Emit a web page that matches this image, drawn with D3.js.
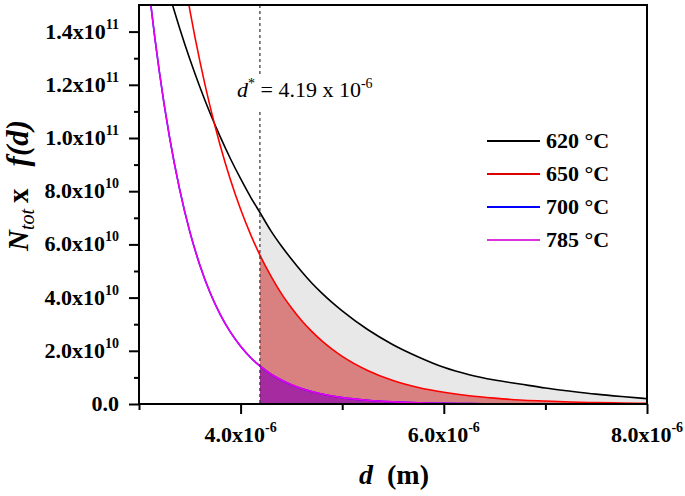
<!DOCTYPE html>
<html><head><meta charset="utf-8">
<script src="https://cdn.jsdelivr.net/npm/d3@7/dist/d3.min.js"></script>
<style>
body{margin:0;background:#fff}
svg{display:block}
text{font-family:"Liberation Serif","Times New Roman",serif;fill:#000}
</style>
</head><body>
<svg id="c" width="685" height="496"></svg>
<script>
// ---- data ----
const dVals = [3.0e-6,3.1e-6,3.2e-6,3.3e-6,3.4e-6,3.5e-6,3.6e-6,3.7e-6,3.8e-6,3.9e-6,4.0e-6,4.1e-6,4.19e-6,4.3e-6,4.4e-6,4.5e-6,4.6e-6,4.7e-6,4.8e-6,4.9e-6,5.0e-6,5.25e-6,5.5e-6,5.75e-6,6.0e-6,6.25e-6,6.5e-6,6.75e-6,7.0e-6,7.25e-6,7.5e-6,7.75e-6,8.0e-6];
const series620 = [19.9e10,18.25e10,16.75e10,15.39e10,14.13e10,12.97e10,11.91e10,10.93e10,10.04e10,9.22e10,8.47e10,7.77e10,7.2e10,6.5e10,5.95e10,5.45e10,4.98e10,4.55e10,4.17e10,3.82e10,3.5e10,2.8e10,2.23e10,1.77e10,1.38e10,1.1e10,0.9e10,0.75e10,0.6e10,0.48e10,0.37e10,0.28e10,0.2e10];
const series650 = [30.0e10,26.0e10,22.6e10,19.6e10,17.06e10,14.82e10,12.87e10,11.18e10,9.71e10,8.43e10,7.32e10,6.36e10,5.6e10,4.8e10,4.16e10,3.62e10,3.14e10,2.73e10,2.37e10,2.06e10,1.79e10,1.26e10,0.88e10,0.62e10,0.44e10,0.31e10,0.22e10,0.15e10,0.11e10,0.075e10,0.053e10,0.037e10,0.026e10];
const series700 = [19.4e10,15.56e10,12.5e10,10.04e10,8.07e10,6.48e10,5.21e10,4.18e10,3.36e10,2.7e10,2.17e10,1.74e10,1.43e10,1.12e10,0.9e10,0.725e10,0.58e10,0.47e10,0.375e10,0.3e10,0.24e10,0.14e10,0.081e10,0.047e10,0.027e10,0.016e10,0.009e10,0.005e10,0.003e10,0.002e10,0.001e10,0.0006e10,0.0004e10];
const series785 = [19.4e10,15.56e10,12.5e10,10.04e10,8.07e10,6.48e10,5.21e10,4.18e10,3.36e10,2.7e10,2.17e10,1.74e10,1.43e10,1.12e10,0.9e10,0.725e10,0.58e10,0.47e10,0.375e10,0.3e10,0.24e10,0.14e10,0.081e10,0.047e10,0.027e10,0.016e10,0.009e10,0.005e10,0.003e10,0.002e10,0.001e10,0.0006e10,0.0004e10];
const dStar = 4.19e-6;
const legendLabels = ["620 °C","650 °C","700 °C","785 °C"];
const xTickValues = [4.0e-6,6.0e-6,8.0e-6];
const xTickMantissa = ["4.0","6.0","8.0"];
const xTickExp = ["-6","-6","-6"];
const xMinorTicks = [3.0e-6,5.0e-6,7.0e-6];
const yTickValues = [0,2e10,4e10,6e10,8e10,1.0e11,1.2e11,1.4e11];
const yTickMantissa = ["0.0","2.0","4.0","6.0","8.0","1.0","1.2","1.4"];
const yTickExp = ["","10","10","10","10","11","11","11"];
const yMinorTicks = [1e10,3e10,5e10,7e10,9e10,1.1e11,1.3e11];

// ---- layout ----
const L=139,R=647,T=5,B=404;
const svg = d3.select("#c");
const x = d3.scaleLinear().domain([3e-6,8e-6]).range([L,R]);
const y = d3.scaleLinear().domain([0,1.5e11]).range([B,T]);

svg.append("defs").append("clipPath").attr("id","clip")
  .append("rect").attr("x",L).attr("y",T).attr("width",R-L).attr("height",B-T);

const rows = dVals.map((d,i)=>({d, a:series620[i], b:series650[i], c:series700[i], m:series785[i]}));
const shaded = rows.filter(r=>r.d>=dStar-1e-12);
const curve = d3.curveMonotoneX;
const plot = svg.append("g").attr("clip-path","url(#clip)");

const area = (top,bot)=>d3.area().curve(curve).x(r=>x(r.d)).y0(r=>y(bot(r))).y1(r=>y(top(r)));
plot.append("path").attr("d",area(r=>r.a,r=>r.b)(shaded)).attr("fill","#e8e8e8");
plot.append("path").attr("d",area(r=>r.b,r=>r.m)(shaded)).attr("fill","#d98180");
plot.append("path").attr("d",area(r=>r.m,r=>0)(shaded)).attr("fill","#a62aa0");

// dashed line
const xs = x(dStar);
[[T,77],[112,B]].forEach(([a,b])=>{
  svg.append("line").attr("x1",xs).attr("x2",xs).attr("y1",a).attr("y2",b)
    .attr("stroke","#333").attr("stroke-width",1.2).attr("stroke-dasharray","3,3");
});

const line = key=>d3.line().curve(curve).x(r=>x(r.d)).y(r=>y(r[key]));
const specs = [["c","#0000ff"],["m","#ee00ee"],["a","#000000"],["b","#ff0000"]];
specs.forEach(([k,col])=>{
  plot.append("path").attr("d",line(k)(rows)).attr("fill","none").attr("stroke",col).attr("stroke-width",1.6);
});

// frame
svg.append("rect").attr("x",L).attr("y",T).attr("width",R-L).attr("height",B-T)
  .attr("fill","none").attr("stroke","#000").attr("stroke-width",2);

// axes ticks
const gx = svg.append("g").attr("transform",`translate(0,${B})`);
gx.call(d3.axisBottom(x).tickValues(xTickValues).tickSize(10).tickFormat(""));
const gx2 = svg.append("g").attr("transform",`translate(0,${B})`);
gx2.call(d3.axisBottom(x).tickValues(xMinorTicks).tickSize(6).tickFormat(""));
const gy = svg.append("g").attr("transform",`translate(${L},0)`);
gy.call(d3.axisLeft(y).tickValues(yTickValues).tickSize(10).tickFormat(""));
const gy2 = svg.append("g").attr("transform",`translate(${L},0)`);
gy2.call(d3.axisLeft(y).tickValues(yMinorTicks).tickSize(5).tickFormat(""));
[gx,gx2,gy,gy2].forEach(g=>{g.select(".domain").remove(); g.selectAll("line").attr("stroke","#000").attr("stroke-width",2);});

// tick labels
xTickValues.forEach((v,i)=>{
  const t = svg.append("text").attr("x",x(v)).attr("y",442).attr("text-anchor","middle")
    .attr("font-weight","bold").attr("font-size",22);
  t.append("tspan").text(xTickMantissa[i]+"x10");
  t.append("tspan").attr("dy",-10).attr("font-size",14).text(xTickExp[i]);
});
yTickValues.forEach((v,i)=>{
  const t = svg.append("text").attr("x",119).attr("y",y(v)+7).attr("text-anchor","end")
    .attr("font-weight","bold").attr("font-size",22);
  if(yTickExp[i]){
    t.append("tspan").text(yTickMantissa[i]+"x10");
    t.append("tspan").attr("dy",-10).attr("font-size",14).text(yTickExp[i]);
  } else t.text(yTickMantissa[i]);
});

// axis titles
const xt = svg.append("text").attr("x",394).attr("y",484).attr("text-anchor","middle")
  .attr("font-weight","bold").attr("font-size",28);
xt.append("tspan").attr("font-style","italic").text("d");
xt.append("tspan").text("\u00a0 (m)");

const yt = svg.append("text").attr("transform","translate(28,251) rotate(-90)")
  .attr("text-anchor","start").attr("font-weight","bold").attr("font-size",29);
yt.append("tspan").attr("font-style","italic").text("N");
yt.append("tspan").attr("font-style","italic").attr("font-weight","normal").attr("font-size",20).attr("dy",6).text("tot");
yt.append("tspan").attr("dy",-6).attr("dx",6).text("x");
yt.append("tspan").attr("dx",22).attr("font-style","italic").attr("font-size",31).text("f(d)");

// annotation
const an = svg.append("text").attr("x",237).attr("y",97).attr("font-size",22);
an.append("tspan").attr("font-style","italic").text("d");
an.append("tspan").attr("dy",-9).attr("font-size",14).text("*");
an.append("tspan").attr("dy",9).text(" = 4.19 x 10");
an.append("tspan").attr("dy",-9).attr("font-size",14).text("-6");

// legend
const legColors = ["#000000","#dd0000","#0000ff","#dd33dd"];
const legY = [148,181,214,247];
legendLabels.forEach((lab,i)=>{
  svg.append("line").attr("x1",487).attr("x2",540).attr("y1",legY[i]-7).attr("y2",legY[i]-7)
    .attr("stroke",legColors[i]).attr("stroke-width",2);
  svg.append("text").attr("x",546).attr("y",legY[i]).attr("font-weight","bold").attr("font-size",22).text(lab);
});
</script>
</body></html>
